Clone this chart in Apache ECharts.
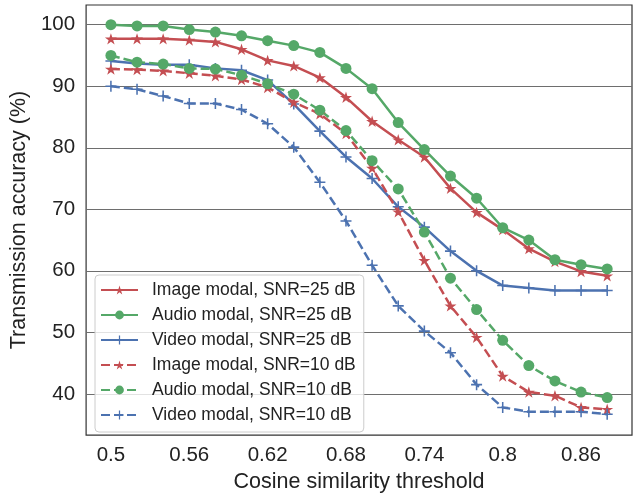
<!DOCTYPE html>
<html>
<head>
<meta charset="utf-8">
<script src="https://cdn.jsdelivr.net/npm/echarts@6/dist/echarts.min.js"></script>
<style>html,body{margin:0;padding:0;background:#fff;}#c{width:644px;height:498px;}</style>
</head>
<body>
<div id="c"></div>
<script>
var thresholds = [0.5,0.52,0.54,0.56,0.58,0.6,0.62,0.64,0.66,0.68,0.7,0.72,0.74,0.76,0.78,0.8,0.82,0.84,0.86,0.88];
var xTickValues = [0.5,0.56,0.62,0.68,0.74,0.8,0.86];
var yTickValues = [40,50,60,70,80,90,100];
var seriesNames = ['Image modal, SNR=25 dB','Audio modal, SNR=25 dB','Video modal, SNR=25 dB','Image modal, SNR=10 dB','Audio modal, SNR=10 dB','Video modal, SNR=10 dB'];
var image25 = [97.7,97.7,97.7,97.5,97.2,96.0,94.2,93.3,91.4,88.2,84.3,81.3,78.5,73.4,69.5,66.7,63.6,61.5,59.9,59.2];
var audio25 = [100,99.8,99.8,99.2,98.8,98.2,97.4,96.6,95.5,92.9,89.6,84.1,79.7,75.4,71.8,67.0,65.0,61.8,61.0,60.3];
var video25 = [94.1,93.7,93.5,93.5,92.9,92.6,91.0,87.1,82.7,78.5,75.0,70.4,67.1,63.2,60.0,57.6,57.2,56.8,56.8,56.8];
var image10 = [92.8,92.7,92.5,92.1,91.7,91.1,89.8,87.4,85.5,82.3,76.7,69.6,61.7,54.3,49.2,42.9,40.3,39.7,37.8,37.5];
var audio10 = [95.0,93.9,93.6,92.9,92.8,91.8,90.4,88.7,86.1,82.8,77.9,73.3,66.3,58.8,53.7,48.7,44.6,42.1,40.3,39.4];
var video10 = [90.0,89.5,88.4,87.2,87.2,86.2,83.9,80.1,74.4,68.1,60.9,54.3,50.2,46.7,41.5,37.8,37.1,37.1,37.1,36.7];

var RED = '#c44e52', GREEN = '#55a868', BLUE = '#4c72b0';
var STAR = 'path://M100,0L122.45,69.1L195.11,69.1L136.33,111.8L158.78,180.9L100,138.2L41.22,180.9L63.67,111.8L4.89,69.1L77.55,69.1Z';
var PLUS = 'path://M43,0H57V43H100V57H57V100H43V57H0V43H43Z';
var FONT = '"Liberation Sans", Arial, sans-serif';

function pairs(vals){ return thresholds.map(function(t,i){ return [t, vals[i]]; }); }
function mk(name, vals, color, symbol, size, dashed){
  return {
    name: name, type: 'line', data: pairs(vals),
    symbol: symbol, symbolSize: size, symbolKeepAspect: true,
    lineStyle: { color: color, width: 2.5, type: dashed ? [9,4] : 'solid' },
    itemStyle: { color: color, borderWidth: 0 },
    emphasis: { disabled: true },
    animation: false
  };
}

var chart = echarts.init(document.getElementById('c'), null, {renderer:'canvas'});
chart.setOption({
  animation: false,
  textStyle: { fontFamily: FONT },
  grid: { left: 86, right: 12, top: 5, bottom: 58, show: true, borderColor: '#333', borderWidth: 1.2, backgroundColor: 'transparent' },
  xAxis: {
    type: 'value', min: 0.481, max: 0.899,
    name: 'Cosine similarity threshold', nameLocation: 'middle', nameGap: 33,
    nameTextStyle: { fontSize: 21.5, color: '#222', fontFamily: FONT },
    axisLine: { show: false }, axisTick: { show: false, customValues: xTickValues },
    splitLine: { show: false },
    axisLabel: { customValues: xTickValues, fontSize: 20.5, color: '#222', margin: 10, fontFamily: FONT,
      formatter: function(v){ return String(Math.round(v*100)/100); } }
  },
  yAxis: {
    type: 'value', min: 33.3, max: 103.2,
    name: 'Transmission accuracy (%)', nameLocation: 'middle', nameGap: 45,
    nameTextStyle: { fontSize: 21.5, color: '#222', fontFamily: FONT },
    axisLine: { show: false }, axisTick: { show: false, customValues: yTickValues },
    splitLine: { show: true, lineStyle: { color: '#6e6e6e', width: 1 } },
    axisLabel: { customValues: yTickValues, fontSize: 20.5, color: '#222', margin: 11, fontFamily: FONT }
  },
  legend: {
    orient: 'vertical', left: 95, top: 275,
    itemWidth: 37, itemHeight: 11, itemGap: 7,
    padding: [6, 8, 8, 5],
    backgroundColor: 'rgba(255,255,255,0.8)', borderColor: '#cccccc', borderWidth: 1, borderRadius: 4,
    textStyle: { fontSize: 17.5, color: '#222', fontFamily: FONT, padding: [0,0,0,9] },
    data: seriesNames
  },
  series: [
    mk(seriesNames[0], image25, RED, STAR, 12, false),
    mk(seriesNames[1], audio25, GREEN, 'circle', 11, false),
    mk(seriesNames[2], video25, BLUE, PLUS, 11, false),
    mk(seriesNames[3], image10, RED, STAR, 12, true),
    mk(seriesNames[4], audio10, GREEN, 'circle', 11, true),
    mk(seriesNames[5], video10, BLUE, PLUS, 11, true)
  ]
});
</script>
</body>
</html>
